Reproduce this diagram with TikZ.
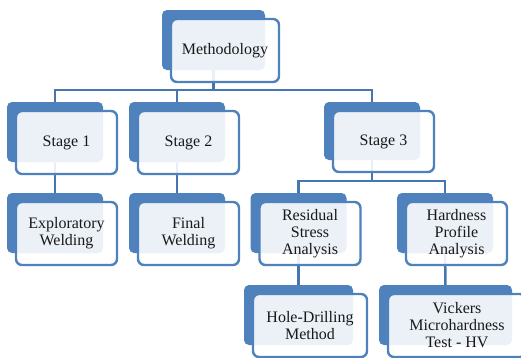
\documentclass[tikz,border=0pt]{standalone}
\usepackage{fontspec}
\setmainfont{Liberation Serif}
\usetikzlibrary{backgrounds,calc}
\definecolor{bblue}{HTML}{4F81BD}
\definecolor{lblue}{HTML}{4576B0}
\tikzset{
  backbox/.style={fill=bblue, rounded corners=5pt, inner sep=0pt},
  frontbox/.style={draw=bblue, line width=2.4pt, fill=white, fill opacity=0.89, text opacity=1,
    rounded corners=6pt, inner sep=0pt, align=center, text=black!90,
    font=\fontsize{16pt}{17pt}\selectfont},
  conn/.style={draw=lblue, line width=2.5pt}
}
\newcommand\mybox[6]{%
  \node[backbox, minimum width=#4pt, minimum height=#5pt] (#1B) at (#2,#3) {};
  \node[frontbox, minimum width=#4pt+5pt, minimum height=#5pt+3pt] (#1) at ($(#1B.center)+(11.5,10.5)$) {#6};
}
\begin{document}
\begin{tikzpicture}[x=1pt,y=-1pt]
\useasboundingbox (0,0) rectangle (521,357);
\mybox{M}{213.5}{40}{103}{60}{Methodology}
\mybox{S1}{55}{132}{96}{60}{Stage 1}
\mybox{S2}{177}{132}{96}{60}{Stage 2}
\mybox{S3}{372}{131}{96}{58}{Stage 3}
\mybox{E}{55}{223}{96}{60}{Exploratory\\Welding}
\mybox{F}{177}{223}{96}{60}{Final\\Welding}
\mybox{R}{298.5}{223}{96}{60}{Residual\\Stress\\Analysis}
\mybox{H}{445}{223}{96}{60}{Hardness\\Profile\\Analysis}
\mybox{HD}{298.5}{315}{109}{60}{Hole-Drilling\\Method}
\mybox{V}{445.5}{315}{133}{60}{Vickers\\Microhardness\\Test - HV}
\begin{scope}[on background layer]
  \coordinate (b1) at (0,90);
  \coordinate (b2) at (0,181);
  \draw[conn] (MB.center) -- (MB.center |- b1);
  \draw[conn] (S1B.center) -- (S1B.center |- b1) -- (S3B.center |- b1) -- (S3B.center);
  \draw[conn] (S2B.center) -- (S2B.center |- b1);
  \draw[conn] (S1B.center) -- (EB.center);
  \draw[conn] (S2B.center) -- (FB.center);
  \draw[conn] (S3B.center) -- (S3B.center |- b2);
  \draw[conn] (RB.center) -- (RB.center |- b2) -- (HB.center |- b2) -- (HB.center);
  \draw[conn] (RB.center) -- (HDB.center);
  \draw[conn] (HB.center) -- (VB.center);
\end{scope}
\end{tikzpicture}
\end{document}
